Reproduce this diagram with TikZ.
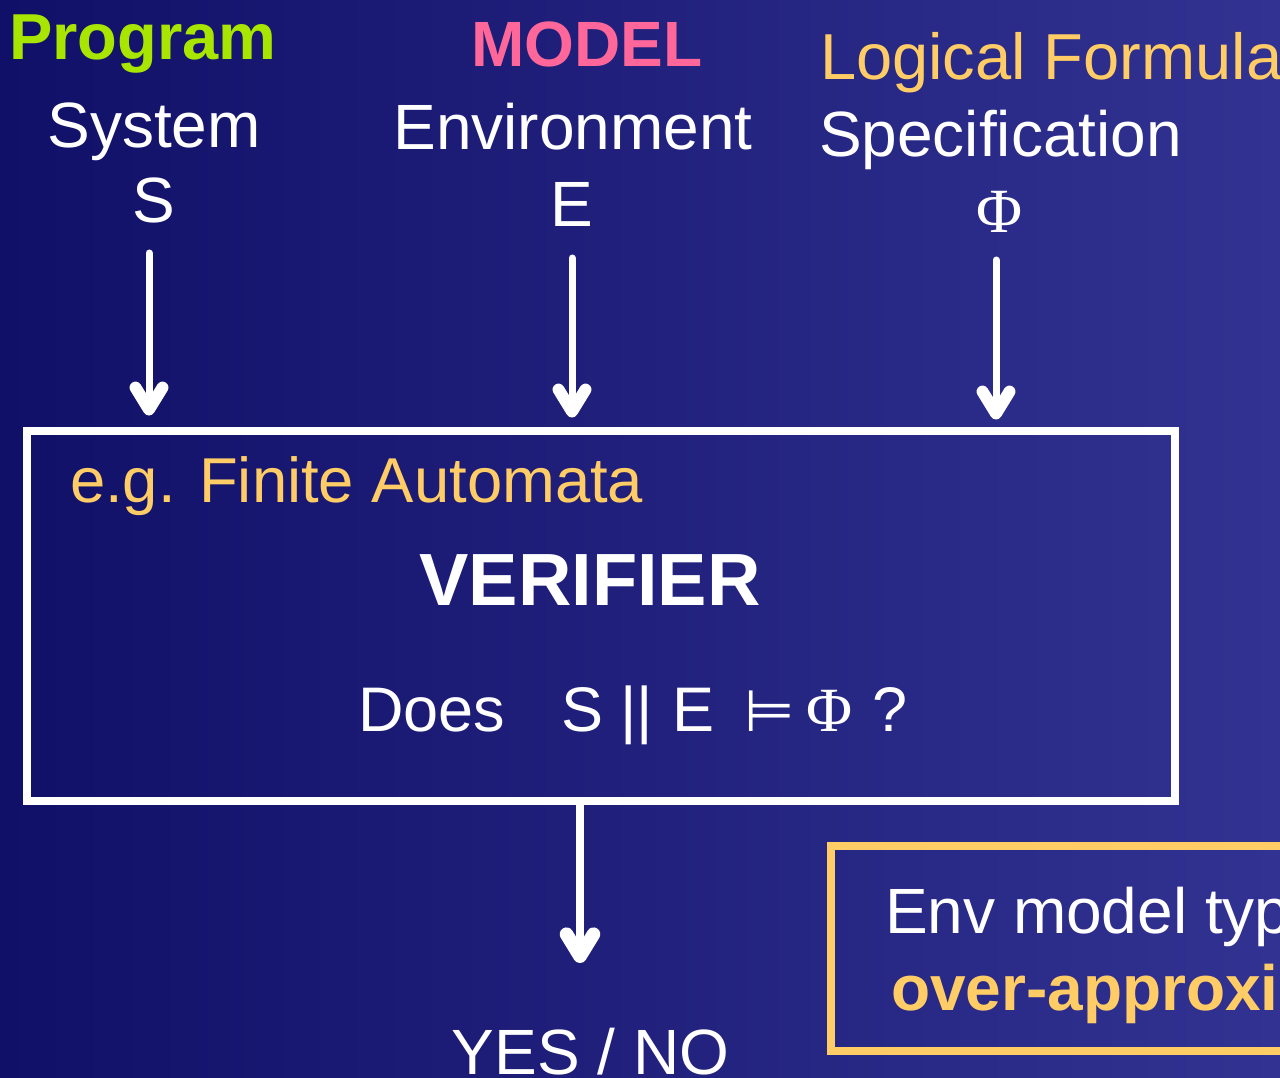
\documentclass[tikz,border=0pt]{standalone}
\usepackage{fontspec}
\setmainfont{Liberation Sans}
\newfontfamily\serifgreek{Liberation Serif}
\newfontfamily\symfont{DejaVu Sans}
\usetikzlibrary{arrows.meta}

\definecolor{bgleft}{RGB}{16,16,104}
\definecolor{bgright}{RGB}{50,50,146}
\definecolor{progreen}{RGB}{168,230,0}
\definecolor{modelpink}{RGB}{255,102,153}
\definecolor{formulayellow}{RGB}{255,204,102}

\newcommand{\fsz}[1]{\fontsize{#1}{#1}\selectfont}

\tikzset{
  txt/.style={inner sep=0pt, outer sep=0pt, text=white, font=\fsz{64}},
  heading/.style={txt, font=\fsz{65}\bfseries},
  flow/.style={draw=white, line width=7pt, line cap=round,
    -{Straight Barb[length=22pt, width=27pt, line width=0pt 1.7, round]}},
  framebox/.style={draw=white, line width=8pt, inner sep=0pt},
  notebox/.style={draw=formulayellow, line width=8pt, inner sep=0pt},
}

\begin{document}
\begin{tikzpicture}[x=1pt, y=-1pt]
  % canvas and background gradient
  \clip (0,0) rectangle (1280,1078);
  \useasboundingbox (0,0) rectangle (1280,1078);
  \shade[left color=bgleft, right color=bgright] (0,0) rectangle (1280,1078);

  % three inputs
  \node[heading, text=progreen, anchor=base] (prog) at (143,60) {Program};
  \node[txt, anchor=base] (sys) at (154,148) {System};
  \node[txt, anchor=base] (sysS) at (154,223) {S};

  \node[heading, font=\fsz{64}\bfseries, text=modelpink, anchor=base] (model) at (587,67) {MODEL};
  \node[txt, anchor=base] (env) at (573,150) {Environment};
  \node[txt, anchor=base] (envE) at (572,227) {E};

  \node[txt, font=\fsz{65}, text=formulayellow, anchor=base west] (logic) at (820,80) {Logical Formula};
  \node[txt, anchor=base west] (spec) at (819,157) {Specification};
  \node[txt, font=\fsz{63}\serifgreek, anchor=base] (phi) at (1000,233) {Φ};

  % verifier box
  \node[framebox, minimum width=1148pt, minimum height=370.5pt] (box) at (601,615.75) {};
  \node[txt, font=\fsz{63.4}, text=formulayellow, anchor=base west] (eg) at (70,502) {e.g. Finite Automata};
  \node[txt, font=\fsz{74}\bfseries, anchor=base] (verif) at (590,605) {VERIFIER};

  \node[txt, font=\fsz{63}, anchor=base west] (does) at (358,731) {Does};
  \node[txt, font=\fsz{63}, anchor=base west] (qS) at (561,731) {S};
  \node[txt, font=\fsz{63}, anchor=base west] (qpar) at (620,731) {||};
  \node[txt, font=\fsz{63}, anchor=base west] (qE) at (672,731) {E};
  \node[txt, font=\fsz{58}\symfont, anchor=base] (qmod) at (770,731) {⊨};
  \node[txt, font=\fsz{63}\serifgreek, anchor=base] (qphi) at (830,731) {Φ};
  \node[txt, font=\fsz{63}, anchor=base west] (qmark) at (872,731) {?};

  % result
  \node[txt, anchor=base] (yesno) at (590.5,1074) {YES / NO};

  % note on environment models
  \node[notebox, minimum width=469pt, minimum height=205pt] (note) at (1065.5,948.5) {};
  \node[txt, anchor=base west] (note1) at (885,933) {Env model typ};
  \node[txt, font=\fsz{64}\bfseries, text=formulayellow, anchor=base west] (note2) at (891,1010) {over-approxi};

  % connectors
  \coordinate (sFrom) at (149,253);
  \coordinate (eFrom) at (572,258);
  \coordinate (pFrom) at (996,260);
  \coordinate (outTo) at (580,963);
  \draw[flow, shorten >=11pt] (sFrom) -- (sFrom |- box.north);
  \draw[flow, shorten >=9pt] (eFrom) -- (eFrom |- box.north);
  \draw[flow, shorten >=7pt] (pFrom) -- (pFrom |- box.north);
  \draw[flow, line width=8pt, line cap=butt] (outTo |- box.south) -- (outTo);
\end{tikzpicture}
\end{document}
